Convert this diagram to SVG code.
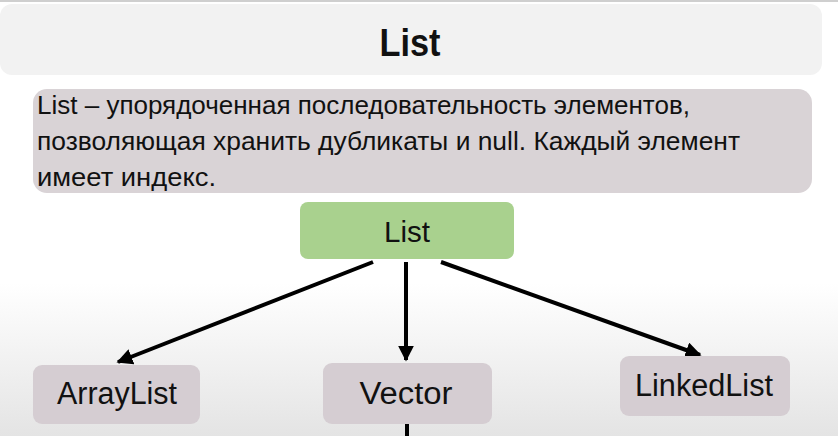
<svg xmlns="http://www.w3.org/2000/svg" width="838" height="436" viewBox="0 0 838 436">
<defs>
<linearGradient id="bg" x1="0" y1="0" x2="0" y2="1">
<stop offset="0" stop-color="#ffffff"/>
<stop offset="0.65" stop-color="#ffffff"/>
<stop offset="1" stop-color="#e4e4e4"/>
</linearGradient>
<marker id="ah" viewBox="0 0 10 10" refX="9" refY="5" markerWidth="4" markerHeight="4" orient="auto" markerUnits="strokeWidth">
<path d="M0,0 L10,5 L0,10 z" fill="#000"/>
</marker>
<style>
.t{font-family:"Liberation Sans",Arial,sans-serif;fill:#111}
.box{fill:#d5cdd2}
.conn{stroke:#000;stroke-width:4;fill:none}
</style>
</defs>
<rect x="0" y="0" width="838" height="436" fill="url(#bg)"/>
<rect x="0" y="0" width="838" height="2" fill="#cfcfcf"/>
<g id="title">
<rect x="0" y="4" width="822" height="71" rx="12" fill="#f2f2f2"/>
<text class="t" x="410" y="56" font-size="38" font-weight="bold" text-anchor="middle" textLength="61" lengthAdjust="spacingAndGlyphs">List</text>
</g>
<g id="description">
<rect x="33" y="89" width="779" height="104" rx="14" fill="#d9d3d6"/>
<text class="t" x="37" y="114" font-size="26" textLength="653" lengthAdjust="spacingAndGlyphs">List – упорядоченная последовательность элементов,</text>
<text class="t" x="37" y="150" font-size="26" textLength="703" lengthAdjust="spacingAndGlyphs">позволяющая хранить дубликаты и null. Каждый элемент</text>
<text class="t" x="37" y="186" font-size="26" textLength="179" lengthAdjust="spacingAndGlyphs">имеет индекс.</text>
</g>
<g id="connectors">
<line class="conn" x1="373" y1="262" x2="118" y2="362" marker-end="url(#ah)"/>
<line class="conn" x1="406" y1="262" x2="406" y2="360" marker-end="url(#ah)"/>
<line class="conn" x1="441" y1="262" x2="700" y2="355" marker-end="url(#ah)"/>
<line class="conn" x1="407" y1="424" x2="407" y2="436"/>
</g>
<g id="list">
<rect x="300" y="202" width="214" height="57" rx="8" fill="#a9d18e"/>
<text class="t" x="407" y="242" font-size="30" text-anchor="middle" textLength="46" lengthAdjust="spacingAndGlyphs">List</text>
</g>
<g id="arraylist">
<rect class="box" x="33" y="365" width="167" height="59" rx="9"/>
<text class="t" x="117" y="404" font-size="31" text-anchor="middle" textLength="120" lengthAdjust="spacingAndGlyphs">ArrayList</text>
</g>
<g id="vector">
<rect class="box" x="323" y="363" width="169" height="61" rx="9"/>
<text class="t" x="406" y="404" font-size="31" text-anchor="middle" textLength="93" lengthAdjust="spacingAndGlyphs">Vector</text>
</g>
<g id="linkedlist">
<rect class="box" x="620" y="356" width="170" height="60" rx="9"/>
<text class="t" x="704" y="396" font-size="31" text-anchor="middle" textLength="138" lengthAdjust="spacingAndGlyphs">LinkedList</text>
</g>
</svg>
